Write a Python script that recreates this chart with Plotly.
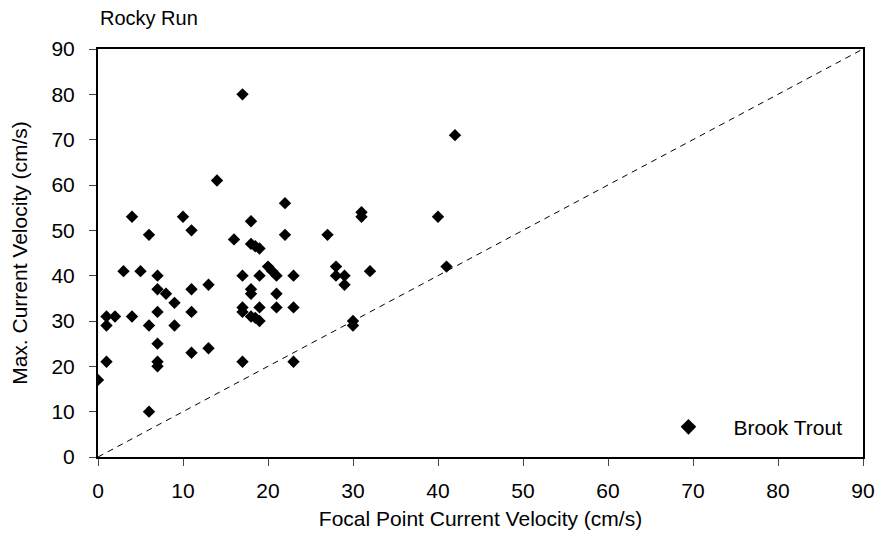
import plotly.graph_objects as go

# Brook trout observations: focal point velocity vs. maximum nearby velocity (cm/s)
focal_velocity = [
    0, 1, 1, 1, 2, 3, 4, 4, 5, 6, 6, 6, 7, 7, 7, 7, 7, 7, 8, 9, 9, 10,
    11, 11, 11, 11, 13, 13, 14, 16, 17, 17, 17, 17, 17, 18, 18, 18, 18,
    18, 18.5, 18.5, 19, 19, 19, 19, 20, 20.5, 21, 21, 21, 22, 22, 23, 23,
    23, 27, 28, 28, 29, 29, 30, 30, 31, 31, 32, 40, 41, 42,
]
max_velocity = [
    17, 21, 29, 31, 31, 41, 31, 53, 41, 10, 29, 49, 20, 21, 25, 32, 37, 40,
    36, 29, 34, 53, 23, 32, 37, 50, 24, 38, 61, 48, 21, 32, 33, 40, 80, 31,
    36, 37, 47, 52, 46.5, 30.7, 46, 30, 33, 40, 42, 41, 40, 36, 33, 49, 56,
    21, 33, 40, 49, 40, 42, 38, 40, 29, 30, 53, 54, 41, 53, 42, 71,
]

axis_ticks = list(range(0, 91, 10))
font_family = "Liberation Sans, Arial, sans-serif"
label_size = 21

fig = go.Figure()

# 1:1 reference line
fig.add_trace(go.Scatter(
    x=[0, 90], y=[0, 90], mode="lines",
    line=dict(color="black", width=1, dash="6px,5px"),
    showlegend=False, hoverinfo="skip",
))

fig.add_trace(go.Scatter(
    x=focal_velocity, y=max_velocity, mode="markers", name="Brook Trout",
    marker=dict(symbol="diamond", size=9.5, color="black",
                line=dict(width=0)),
))

axis_common = dict(
    range=[0, 90], tickvals=axis_ticks, ticks="outside", ticklen=7,
    tickwidth=1, tickcolor="#444", showline=True, linecolor="black",
    linewidth=2, mirror=True, showgrid=False, zeroline=False,
    tickfont=dict(size=label_size, color="black", family=font_family),
    title_font=dict(size=label_size, color="black", family=font_family),
)

fig.update_layout(
    width=887, height=548,
    margin=dict(l=98, r=20, t=49, b=91),
    plot_bgcolor="white", paper_bgcolor="white",
    font=dict(family=font_family, color="black"),
    xaxis=dict(title=dict(text="Focal Point Current Velocity (cm/s)", standoff=10),
               ticklabelstandoff=7, **axis_common),
    yaxis=dict(title=dict(text="Max. Current Velocity (cm/s)", standoff=18),
               ticklabelstandoff=10, **axis_common),
    legend=dict(x=0.713, y=0.073, xanchor="left", yanchor="middle",
                bgcolor="rgba(0,0,0,0)", borderwidth=0, itemwidth=80,
                font=dict(size=label_size, color="black", family=font_family),
                itemsizing="constant"),
    annotations=[dict(
        text="Rocky Run", xref="paper", yref="paper", x=0, y=1,
        xanchor="left", yanchor="bottom", yshift=18, showarrow=False,
        font=dict(size=20, color="black", family=font_family),
    )],
)

fig.write_html("out.html")
